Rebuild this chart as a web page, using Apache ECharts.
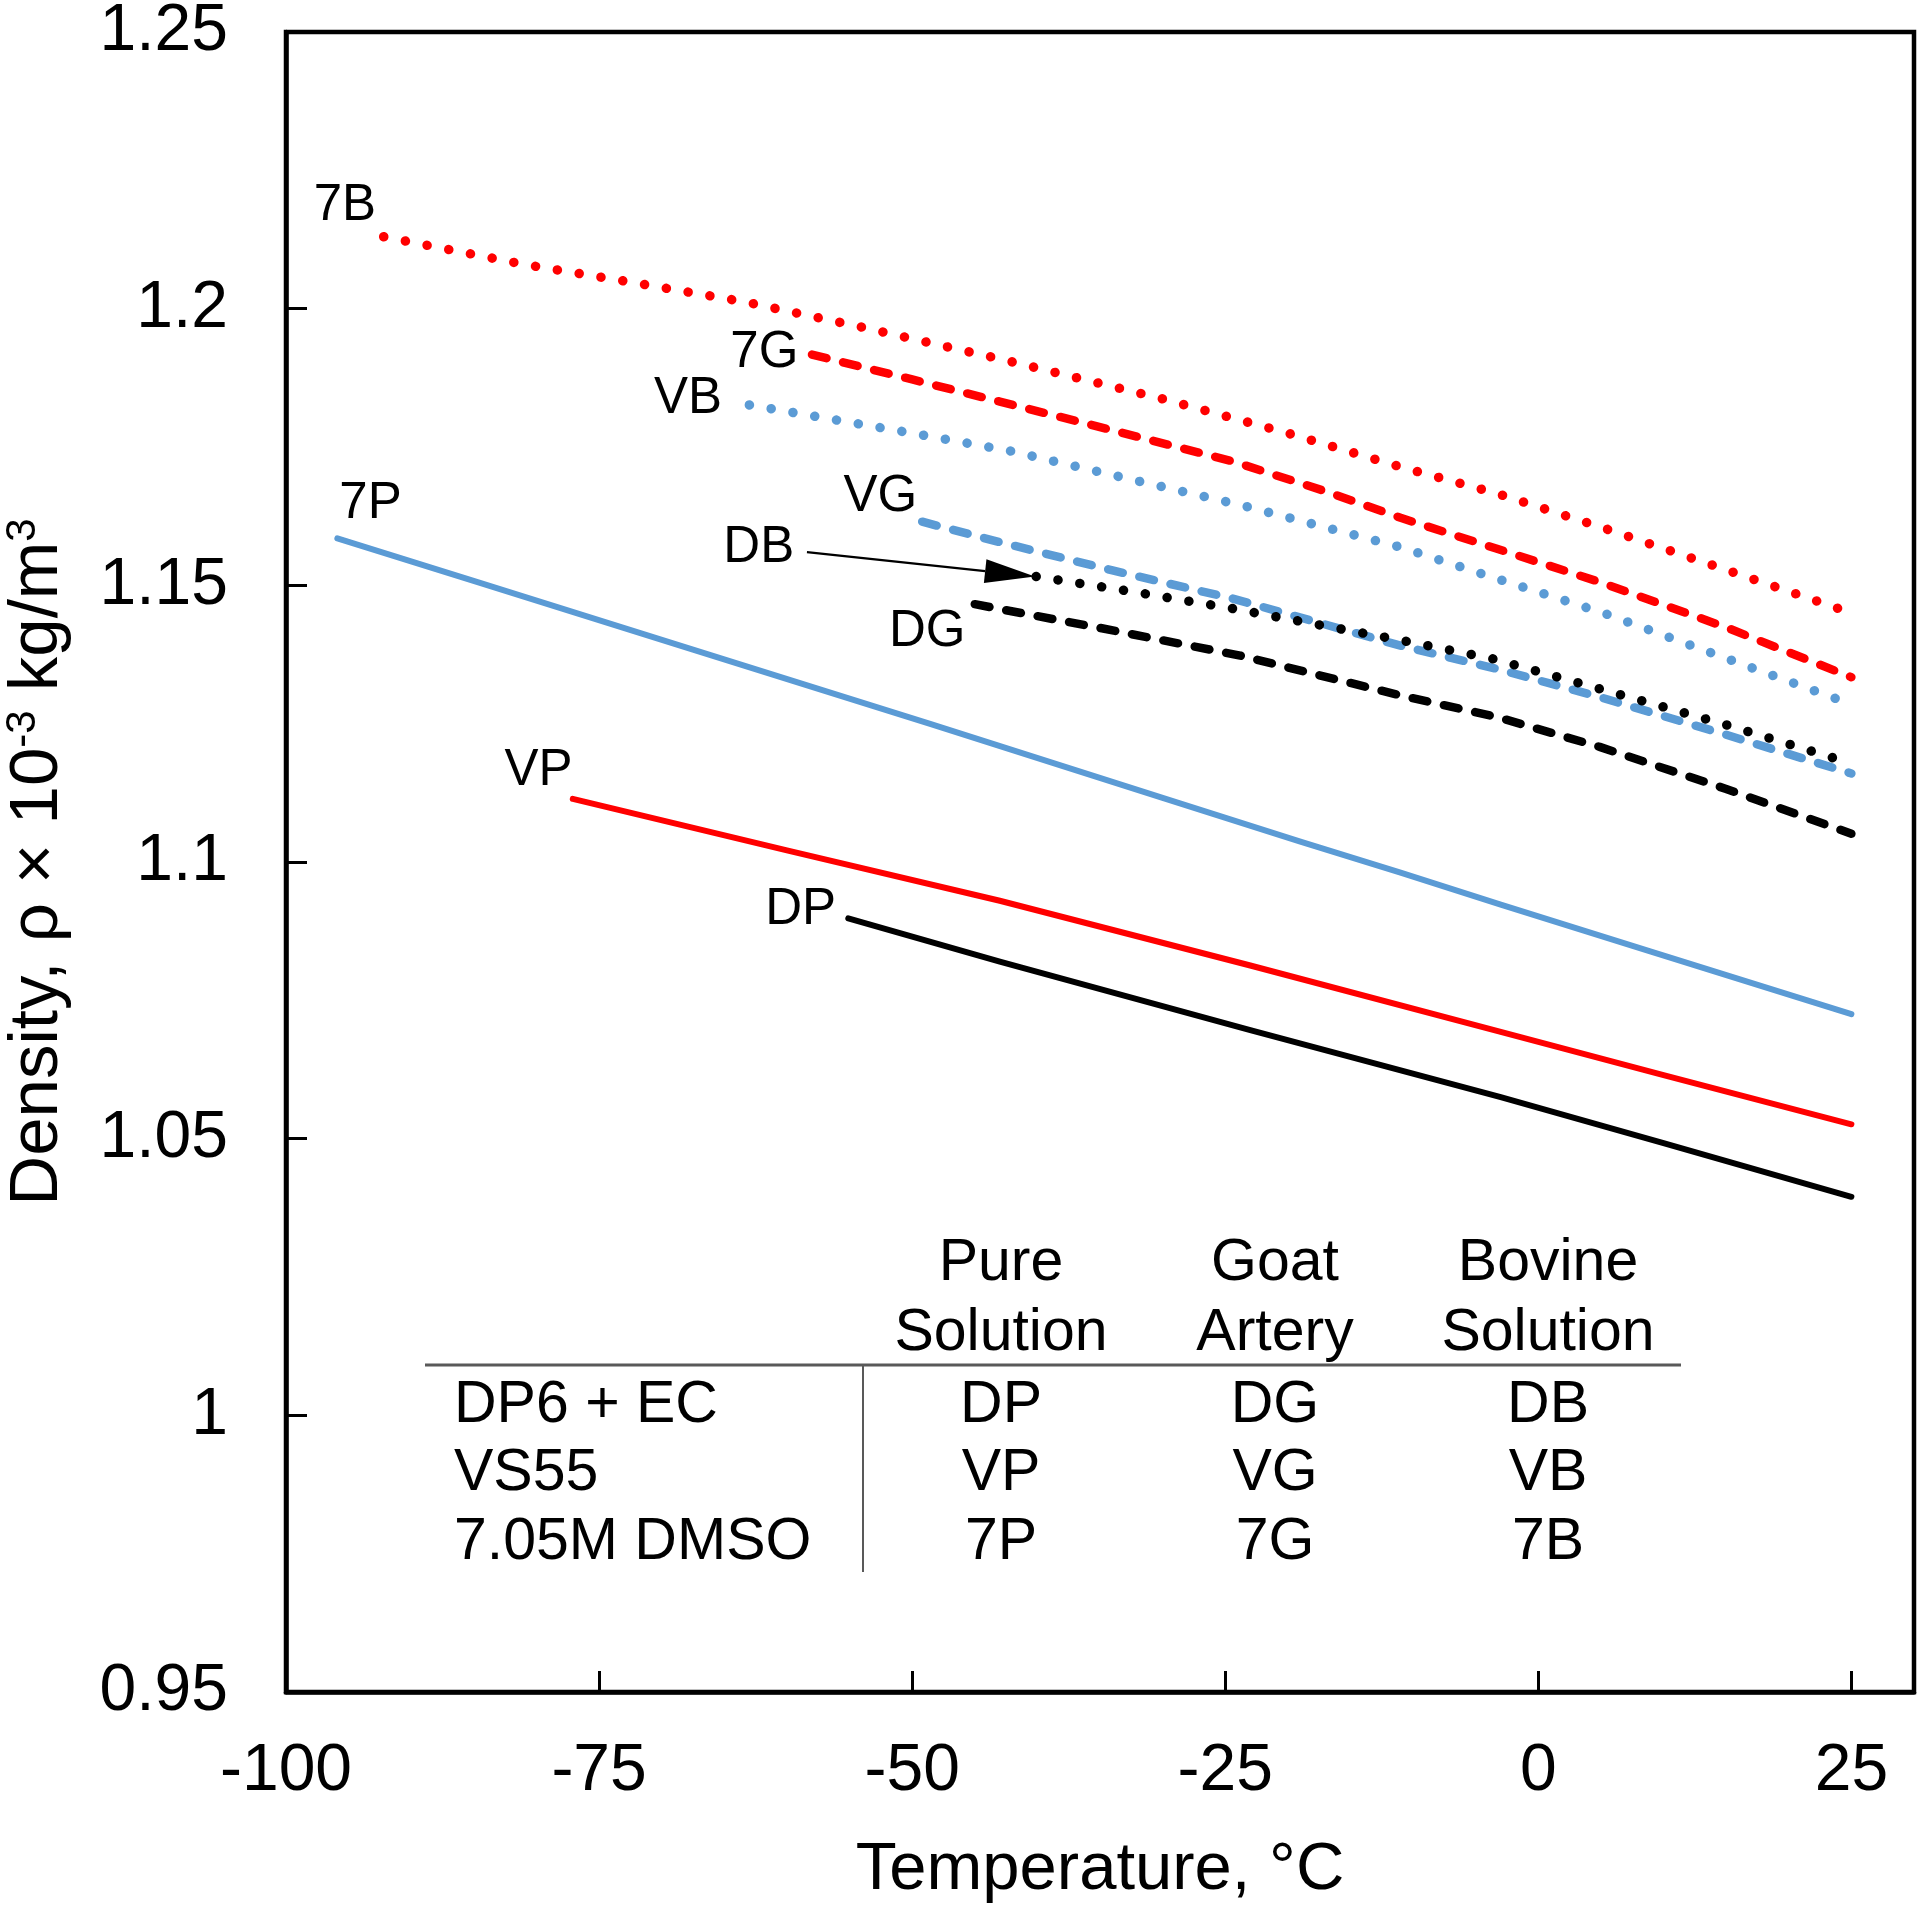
<!DOCTYPE html>
<html><head><meta charset="utf-8">
<script src="https://cdn.jsdelivr.net/npm/echarts@6/dist/echarts.min.js"></script>
<style>html,body{margin:0;padding:0;background:#fff}#c{width:1920px;height:1912px}</style>
</head><body><div id="c"></div>
<script>
// ---- data (temperature °C, density ×10^-3 kg/m^3) ----
const s7B = [[-92.2,1.2130],[-81,1.2080],[-73,1.2050],[-63.3,1.2012],[-54.3,1.1968],[-42.4,1.1906],[-30,1.1837],[-20,1.1775],[-11,1.1714],[-3.3,1.1666],[4.9,1.1606],[15,1.1528],[25,1.1450]];
const s7G = [[-58.0,1.1917],[-50,1.1872],[-43,1.1832],[-35,1.1786],[-24.4,1.1724],[-17,1.1670],[-11,1.1622],[-3.3,1.1566],[4.9,1.1506],[15,1.1424],[25,1.1334]];
const sVB = [[-63.0,1.1826],[-50,1.1775],[-42.2,1.1743],[-33,1.1694],[-23.4,1.1643],[-11,1.1569],[-3.3,1.1512],[5.2,1.1450],[15,1.1368],[25,1.1285]];
const sVG = [[-49.2,1.1615],[-43,1.1578],[-34,1.1527],[-24.4,1.1476],[-11,1.1391],[-3.3,1.1349],[4.9,1.1298],[15,1.1230],[25,1.1160]];
const sDB = [[-40.1,1.1516],[-32,1.1487],[-24.4,1.1458],[-10.8,1.1400],[-3.6,1.1367],[4.9,1.1313],[15,1.1248],[25,1.1178]];
const sDG = [[-45.0,1.1466],[-42.5,1.1455],[-35,1.1423],[-23.8,1.1373],[-11,1.1301],[-3.3,1.1262],[4.9,1.1208],[15,1.1132],[25,1.1051]];
const s7P = [[-95.9,1.1585],[-84.7,1.1506],[-67.5,1.1384],[-48.5,1.1249],[-30,1.1116],[-19,1.1037],[-11,1.0981],[-3,1.0923],[9,1.0838],[25,1.0725]];
const sVP = [[-77.1,1.1114],[-60,1.1021],[-43,1.0930],[-23,1.0813],[-3,1.0693],[10,1.0615],[25,1.0526]];
const sDP = [[-55.1,1.0898],[-43,1.0820],[-23,1.0696],[-3,1.0575],[10,1.0492],[25,1.0395]];

const curveLabels = [['7B',-95.3,1.2186],['7G',-61.8,1.1920],['VB',-67.9,1.1836],['VG',-52.55,1.1659],['DB',-62.25,1.1568],['DG',-48.8,1.1416],['7P',-93.25,1.1648],['VP',-79.84,1.1164],['DP',-58.9,1.0914]];
const dbArrow = [[-58.4,1.1560,-40.2,1.1516]];

const xMin = -100, xMax = 30, xStep = 25;
const yMin = 0.95, yMax = 1.25, yStep = 0.05;

const tableHeader = [['Pure','Solution'],['Goat','Artery'],['Bovine','Solution']];
const tableRows = ['DP6 + EC','VS55','7.05M DMSO'];
const tableCells = [['DP','DG','DB'],['VP','VG','VB'],['7P','7G','7B']];

// ---- style ----
const FONT = '"Liberation Sans", Arial, Helvetica, sans-serif';
const RED = '#FF0000', BLUE = '#5B9BD5', BLACK = '#000000';
const DOT = [0.1, 22], DASH = [15, 17];

function lineSeries(name, data, color, type, width) {
  return {
    name, type: 'line', data, showSymbol: false, symbol: 'none', smooth: false,
    lineStyle: { color, width, type, cap: 'round', join: 'round' },
    emphasis: { disabled: true }, silent: true, animation: false
  };
}

// table layout
const colX = [1001, 1275, 1548];
const headY = [1264, 1334];
const rowY = [1406, 1474, 1543];
const rowX = 454;
const TFS = 59;
const graphic = [
  { type: 'line', shape: { x1: 425, y1: 1365, x2: 1681, y2: 1365 }, style: { stroke: '#595959', lineWidth: 3 } },
  { type: 'line', shape: { x1: 863, y1: 1365, x2: 863, y2: 1572 }, style: { stroke: '#595959', lineWidth: 2 } }
];
tableHeader.forEach((h, i) => h.forEach((t, j) => graphic.push({
  type: 'text', x: colX[i], y: headY[j],
  style: { text: t, fontSize: TFS, fontFamily: FONT, fill: '#000', align: 'center', verticalAlign: 'middle' }
})));
tableRows.forEach((t, r) => graphic.push({
  type: 'text', x: rowX, y: rowY[r],
  style: { text: t, fontSize: TFS, fontFamily: FONT, fill: '#000', align: 'left', verticalAlign: 'middle' }
}));
tableCells.forEach((row, r) => row.forEach((t, c) => graphic.push({
  type: 'text', x: colX[c], y: rowY[r],
  style: { text: t, fontSize: TFS, fontFamily: FONT, fill: '#000', align: 'center', verticalAlign: 'middle' }
})));

const chart = echarts.init(document.getElementById('c'), null, { renderer: 'canvas' });
chart.setOption({
  animation: false,
  backgroundColor: '#fff',
  grid: { left: 286, right: 6, top: 32, bottom: 220, show: true, borderColor: '#000', borderWidth: 4.5, containLabel: false, outerBoundsMode: 'none' },
  xAxis: {
    type: 'value', min: xMin, max: xMax, interval: xStep,
    name: 'Temperature, °C', nameLocation: 'middle', nameGap: 145,
    nameTextStyle: { fontSize: 67, fontFamily: FONT, color: '#000' },
    axisLine: { onZero: false, lineStyle: { color: '#000', width: 4.5 } },
    axisTick: { inside: true, length: 21, lineStyle: { color: '#000', width: 3 } },
    axisLabel: { margin: 47, fontSize: 66, fontFamily: FONT, color: '#000', showMaxLabel: false,
      formatter: v => (v > 25 ? '' : String(v)) },
    splitLine: { show: false }
  },
  yAxis: {
    type: 'value', min: yMin, max: yMax, interval: yStep,
    name: '{m|Density, ρ × 10}{s|-3}{m| kg/m}{s|3}', nameLocation: 'middle', nameGap: 212,
    nameTextStyle: { rich: {
      m: { fontSize: 69, fontFamily: FONT, color: '#000', lineHeight: 72 },
      s: { fontSize: 42, fontFamily: FONT, color: '#000', lineHeight: 42, verticalAlign: 'top' }
    } },
    axisLine: { onZero: false, lineStyle: { color: '#000', width: 4.5 } },
    axisTick: { inside: true, length: 21, lineStyle: { color: '#000', width: 3 } },
    axisLabel: { margin: 58, fontSize: 66, fontFamily: FONT, color: '#000' },
    splitLine: { show: false }
  },
  graphic,
  series: [
    lineSeries('7P', s7P, BLUE, 'solid', 6),
    lineSeries('VP', sVP, RED, 'solid', 6),
    lineSeries('DP', sDP, BLACK, 'solid', 6),
    lineSeries('7B', s7B, RED, DOT, 9.5),
    lineSeries('7G', s7G, RED, DASH, 8.5),
    lineSeries('VB', sVB, BLUE, DOT, 9.5),
    lineSeries('DG', sDG, BLACK, DASH, 8.5),
    lineSeries('VG', sVG, BLUE, DASH, 8.5),
    lineSeries('DB', sDB, BLACK, DOT, 9.5),
    {
      type: 'custom', silent: true, animation: false, data: dbArrow,
      renderItem: (params, api) => {
        const p0 = api.coord([api.value(0), api.value(1)]);
        const p1 = api.coord([api.value(2), api.value(3)]);
        const dx = p1[0] - p0[0], dy = p1[1] - p0[1];
        const len = Math.sqrt(dx * dx + dy * dy), ux = dx / len, uy = dy / len;
        const hl = 50, hw = 12;
        const bx = p1[0] - ux * hl, by = p1[1] - uy * hl;
        return { type: 'group', children: [
          { type: 'line', shape: { x1: p0[0], y1: p0[1], x2: bx, y2: by }, style: { stroke: '#000', lineWidth: 2.4 } },
          { type: 'polygon', shape: { points: [[p1[0], p1[1]], [bx - uy * hw, by + ux * hw], [bx + uy * hw, by - ux * hw]] }, style: { fill: '#000' } }
        ] };
      }
    },
    {
      type: 'custom', silent: true, animation: false,
      data: curveLabels.map(d => [d[1], d[2]]),
      renderItem: (params, api) => {
        const p = api.coord([api.value(0), api.value(1)]);
        return { type: 'text', x: p[0], y: p[1],
          style: { text: curveLabels[params.dataIndex][0], fontSize: 51, fontFamily: FONT, fill: '#000', align: 'center', verticalAlign: 'middle' } };
      }
    }
  ]
});
</script></body></html>
